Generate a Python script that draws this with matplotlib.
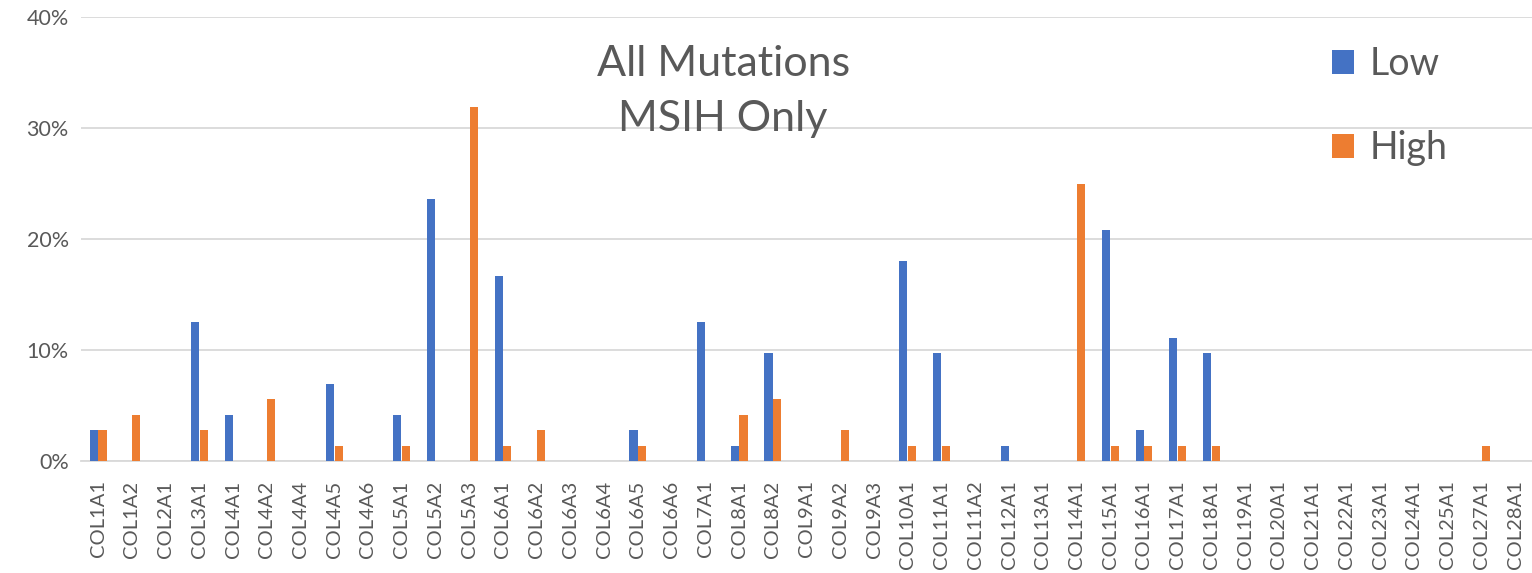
import numpy as np
import matplotlib.pyplot as plt
from matplotlib.ticker import PercentFormatter

plt.rcParams['font.family'] = ['Lato', 'DejaVu Sans']

genes = ['COL1A1', 'COL1A2', 'COL2A1', 'COL3A1', 'COL4A1', 'COL4A2', 'COL4A4',
         'COL4A5', 'COL4A6', 'COL5A1', 'COL5A2', 'COL5A3', 'COL6A1', 'COL6A2',
         'COL6A3', 'COL6A4', 'COL6A5', 'COL6A6', 'COL7A1', 'COL8A1', 'COL8A2',
         'COL9A1', 'COL9A2', 'COL9A3', 'COL10A1', 'COL11A1', 'COL11A2', 'COL12A1',
         'COL13A1', 'COL14A1', 'COL15A1', 'COL16A1', 'COL17A1', 'COL18A1',
         'COL19A1', 'COL20A1', 'COL21A1', 'COL22A1', 'COL23A1', 'COL24A1',
         'COL25A1', 'COL27A1', 'COL28A1']

# percent of samples
low = [2.78, 0, 0, 12.5, 4.17, 0, 0,
       6.94, 0, 4.17, 23.6, 0, 16.7, 0,
       0, 0, 2.78, 0, 12.5, 1.39, 9.72,
       0, 0, 0, 18.06, 9.72, 0, 1.39,
       0, 0, 20.8, 2.78, 11.1, 9.72,
       0, 0, 0, 0, 0, 0,
       0, 0, 0]
high = [2.78, 4.17, 0, 2.78, 0, 5.56, 0,
        1.39, 0, 1.39, 0, 31.9, 1.39, 2.78,
        0, 0, 1.39, 0, 0, 4.17, 5.56,
        0, 2.78, 0, 1.39, 1.39, 0, 0,
        0, 25.0, 1.39, 1.39, 1.39, 1.39,
        0, 0, 0, 0, 0, 0,
        0, 1.39, 0]

blue = '#4472c4'
orange = '#ed7d31'
grey_txt = '#595959'

fig = plt.figure(figsize=(15.32, 5.73), dpi=100)
ax = fig.add_axes([0.053, 0.1955, 0.947, 0.7748])

x = np.arange(len(genes))
w = 0.24
ax.bar(x - w/2 - 0.01, low, w, color=blue, label='Low', zorder=3)
ax.bar(x + w/2 + 0.01, high, w, color=orange, label='High', zorder=3)

ax.set_xlim(-0.5, len(genes) - 0.5)
ax.set_ylim(0, 40)
ax.set_yticks([0, 10, 20, 30, 40])
ax.yaxis.set_major_formatter(PercentFormatter(decimals=0))
ax.set_xticks(x)
ax.set_xticklabels(genes, rotation=90)
ax.tick_params(axis='y', length=0, labelsize=15.5, colors=grey_txt, pad=9)
ax.tick_params(axis='x', length=0, labelsize=14.5, colors=grey_txt, pad=14)

ax.grid(axis='y', color='#d9d9d9', linewidth=1.3, zorder=0)
for s in ['top', 'right', 'left']:
    ax.spines[s].set_visible(False)
ax.spines['bottom'].set_color('#d9d9d9')
ax.spines['bottom'].set_linewidth(1.3)

ax.text(0.4425, 0.832, 'All Mutations\nMSIH Only', transform=ax.transAxes,
        ha='center', va='center', fontsize=31, color=grey_txt, linespacing=1.55)

ax.legend(loc='upper left', bbox_to_anchor=(0.862, 0.935), frameon=False,
          fontsize=27, labelspacing=1.28, handlelength=0.6, handleheight=0.6,
          handletextpad=0.4, borderpad=0, borderaxespad=0,
          labelcolor=grey_txt)

plt.savefig('out.png', dpi=100)
